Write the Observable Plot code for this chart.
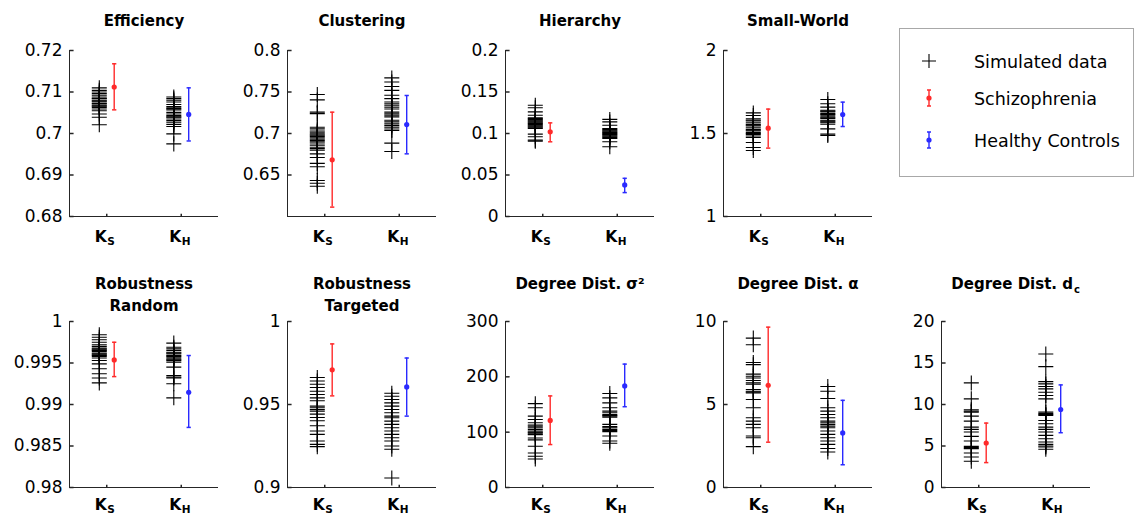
<!DOCTYPE html>
<html><head><meta charset="utf-8">
<script src="https://cdn.jsdelivr.net/npm/d3@7"></script>
<script src="https://cdn.jsdelivr.net/npm/@observablehq/plot@0.6"></script>
<style>
body{margin:0;background:#fff;}
#root{position:relative;width:1135px;height:517px;overflow:hidden;font-family:"DejaVu Sans",sans-serif;background:#fff;}
.panel{position:absolute;}
#legend{position:absolute;left:899px;top:28px;width:233px;height:147px;border:1px solid #a8a8a8;}
</style></head><body><div id="root"></div>
<script>
// ---------------- data ----------------
const categories = ["S", "H"];           // K_S, K_H subscripts
const catX = [1, 2];
const legendLabels = ["Simulated data", "Schizophrenia", "Healthy Controls"];

const titles = ["Efficiency", "Clustering", "Hierarchy", "Small-World",
  "Robustness\nRandom", "Robustness\nTargeted", "Degree Dist. σ²", "Degree Dist. α", "Degree Dist. d"];
const titleSubscripts = ["", "", "", "", "", "", "", "", "c"];

// Efficiency
const effDomain = [0.68, 0.72];
const effTicks = [0.68, 0.69, 0.7, 0.71, 0.72];
const effSimS = [0.7110, 0.7104, 0.7100, 0.7096, 0.7092, 0.7088, 0.7085, 0.7084, 0.7080, 0.7078, 0.7076, 0.7072, 0.7071, 0.7067, 0.7066, 0.7063, 0.7059, 0.7055, 0.7047, 0.7039, 0.7021];
const effSimH = [0.7088, 0.7084, 0.7080, 0.7076, 0.7070, 0.7065, 0.7062, 0.7060, 0.7057, 0.7051, 0.7047, 0.7043, 0.7040, 0.7039, 0.7035, 0.7031, 0.7027, 0.7022, 0.7017, 0.6999, 0.6975];
const effSZ = [0.7112, 0.7057, 0.7168];
const effHC = [0.7046, 0.6982, 0.7110];

// Clustering
const cluDomain = [0.6, 0.8];
const cluTicks = [0.65, 0.7, 0.75, 0.8];
const cluSimS = [0.747, 0.7405, 0.7257, 0.724, 0.7076, 0.7056, 0.703, 0.7015, 0.6996, 0.698, 0.6965, 0.6948, 0.6932, 0.6916, 0.69, 0.6885, 0.686, 0.6835, 0.682, 0.680, 0.6755, 0.671, 0.664, 0.660, 0.6434, 0.640, 0.6365];
const cluSimH = [0.767, 0.762, 0.7566, 0.752, 0.746, 0.742, 0.738, 0.7357, 0.7335, 0.7317, 0.7295, 0.7257, 0.7237, 0.722, 0.720, 0.716, 0.714, 0.7116, 0.7095, 0.7076, 0.7055, 0.7036, 0.6884, 0.6783];
const cluSZ = [0.6683, 0.6113, 0.7257];
const cluHC = [0.7108, 0.6755, 0.7458];

// Hierarchy
const hieDomain = [0, 0.2];
const hieTicks = [0, 0.05, 0.1, 0.15, 0.2];
const hieSimS = [0.134, 0.131, 0.126, 0.122, 0.119, 0.118, 0.117, 0.116, 0.115, 0.114, 0.113, 0.112, 0.111, 0.110, 0.109, 0.108, 0.107, 0.106, 0.0992, 0.096, 0.092, 0.0908];
const hieSimH = [0.117, 0.114, 0.110, 0.106, 0.105, 0.104, 0.103, 0.102, 0.101, 0.100, 0.099, 0.098, 0.097, 0.096, 0.095, 0.094, 0.090, 0.084];
const hieSZ = [0.102, 0.090, 0.1128];
const hieHC = [0.038, 0.0288, 0.046];

// Small-World
const swDomain = [1, 2];
const swTicks = [1, 1.5, 2];
const swSimS = [1.624, 1.608, 1.588, 1.58, 1.575, 1.565, 1.555, 1.55, 1.545, 1.535, 1.525, 1.52, 1.515, 1.505, 1.50, 1.495, 1.485, 1.476, 1.446, 1.416, 1.398];
const swSimH = [1.705, 1.679, 1.659, 1.64, 1.635, 1.63, 1.62, 1.615, 1.61, 1.60, 1.595, 1.59, 1.58, 1.575, 1.57, 1.565, 1.556, 1.528, 1.496, 1.488];
const swSZ = [1.532, 1.412, 1.647];
const swHC = [1.6145, 1.542, 1.689];

// Robustness Random
const rrDomain = [0.98, 1];
const rrTicks = [0.98, 0.985, 0.99, 0.995, 1];
const rrSimS = [0.9984, 0.9981, 0.9978, 0.9975, 0.9972, 0.9970, 0.9968, 0.9967, 0.9966, 0.9965, 0.9964, 0.9962, 0.9961, 0.9960, 0.9959, 0.9958, 0.9956, 0.9953, 0.9949, 0.9943, 0.9937, 0.9932, 0.9926];
const rrSimH = [0.9974, 0.9969, 0.9967, 0.9965, 0.9963, 0.9962, 0.9961, 0.9959, 0.9958, 0.9957, 0.9955, 0.9954, 0.9953, 0.9951, 0.9945, 0.9935, 0.9933, 0.9932, 0.9925, 0.9908];
const rrSZ = [0.99537, 0.99336, 0.9975];
const rrHC = [0.99147, 0.98724, 0.9959];

// Robustness Targeted
const rtDomain = [0.9, 1];
const rtTicks = [0.9, 0.95, 1];
const rtSimS = [0.9663, 0.9642, 0.9622, 0.9602, 0.958, 0.956, 0.954, 0.9523, 0.949, 0.948, 0.947, 0.946, 0.9442, 0.9422, 0.9402, 0.9372, 0.934, 0.932, 0.928, 0.926, 0.9246];
const rtSimH = [0.9568, 0.955, 0.953, 0.951, 0.949, 0.947, 0.945, 0.943, 0.942, 0.940, 0.938, 0.936, 0.934, 0.932, 0.930, 0.928, 0.925, 0.923, 0.9057];
const rtSZ = [0.9709, 0.9552, 0.9865];
const rtHC = [0.9606, 0.943, 0.978];

// Degree Dist. sigma^2
const sigDomain = [0, 300];
const sigTicks = [0, 100, 200, 300];
const sigSimS = [151.5, 144, 129, 123, 117, 113, 111, 108, 105, 102, 100, 99, 97, 95.5, 89.5, 86, 74.5, 62.4, 56.4, 51.5];
const sigSimH = [170, 162, 153, 144, 138, 135, 132, 130, 129, 127, 114, 110, 108, 105, 103, 101, 93, 84, 80];
const sigSZ = [121.2, 77.6, 165.5];
const sigHC = [183.6, 146, 223];

// Degree Dist. alpha
const alpDomain = [0, 10];
const alpTicks = [0, 5, 10];
const alpSimS = [9.0, 8.6, 7.53, 7.4, 6.83, 6.7, 6.6, 6.45, 6.3, 6.22, 5.9, 5.8, 5.75, 5.7, 5.3, 4.8, 4.2, 4.0, 3.8, 3.6, 3.1, 3.0, 2.46];
const alpSimH = [6.08, 5.8, 5.36, 4.8, 4.6, 4.4, 4.2, 4.0, 3.9, 3.8, 3.7, 3.6, 3.4, 3.2, 3.0, 2.8, 2.6, 2.35, 2.14];
const alpSZ = [6.16, 2.73, 9.66];
const alpHC = [3.29, 1.37, 5.25];

// Degree Dist. d_c
const dcDomain = [0, 20];
const dcTicks = [0, 5, 10, 15, 20];
const dcSimS = [12.6, 10.68, 9.36, 9.2, 9.08, 8.6, 8.0, 7.28, 7.0, 6.68, 6.16, 5.6, 4.96, 4.8, 4.68, 4.16, 3.68, 3.16];
const dcSimH = [16.08, 14.56, 12.76, 12.48, 12.16, 11.88, 11.48, 11.08, 10.68, 9.08, 8.9, 8.8, 8.68, 8.08, 7.68, 7.28, 7.0, 6.68, 6.28, 5.88, 5.48, 5.2, 5.0, 4.88, 4.6];
const dcSZ = [5.36, 3.0, 7.76];
const dcHC = [9.4, 6.6, 12.36];

// ---------------- styling / layout ----------------
const colSZ = "#ff2a2a", colHC = "#2a2aff", axisColor = "#262626";
const simOffset = -0.1, errOffset = 0.1;
const xDomain = [0.5, 2.5];
const frameW = 149, frameH = 166, ML = 66, MR = 3, MT = 50;

const panelDefs = [
  {domain: effDomain, ticks: effTicks, simS: effSimS, simH: effSimH, sz: effSZ, hc: effHC},
  {domain: cluDomain, ticks: cluTicks, simS: cluSimS, simH: cluSimH, sz: cluSZ, hc: cluHC},
  {domain: hieDomain, ticks: hieTicks, simS: hieSimS, simH: hieSimH, sz: hieSZ, hc: hieHC},
  {domain: swDomain, ticks: swTicks, simS: swSimS, simH: swSimH, sz: swSZ, hc: swHC},
  {domain: rrDomain, ticks: rrTicks, simS: rrSimS, simH: rrSimH, sz: rrSZ, hc: rrHC},
  {domain: rtDomain, ticks: rtTicks, simS: rtSimS, simH: rtSimH, sz: rtSZ, hc: rtHC},
  {domain: sigDomain, ticks: sigTicks, simS: sigSimS, simH: sigSimH, sz: sigSZ, hc: sigHC},
  {domain: alpDomain, ticks: alpTicks, simS: alpSimS, simH: alpSimH, sz: alpSZ, hc: alpHC},
  {domain: dcDomain, ticks: dcTicks, simS: dcSimS, simH: dcSimH, sz: dcSZ, hc: dcHC}
];
const layout = [
  {col: 0, row: 0}, {col: 1, row: 0}, {col: 2, row: 0}, {col: 3, row: 0},
  {col: 0, row: 1}, {col: 1, row: 1}, {col: 2, row: 1}, {col: 3, row: 1}, {col: 4, row: 1}
];

const tickRight = {draw(ctx, size) { const l = Math.sqrt(size); ctx.moveTo(0, 0); ctx.lineTo(l, 0); }};
const tickUp = {draw(ctx, size) { const l = Math.sqrt(size); ctx.moveTo(0, 0); ctx.lineTo(0, -l); }};
const capLine = {draw(ctx, size) { const l = Math.sqrt(size) / 2; ctx.moveTo(-l, 0); ctx.lineTo(l, 0); }};
const fmt = d => String(+d.toFixed(6));

const root = document.getElementById("root");

panelDefs.forEach((p, i) => {
  const {col, row} = layout[i];
  const MB = row === 0 ? 40 : 30;
  const sim = [
    ...p.simS.map(v => ({x: catX[0] + simOffset, y: v})),
    ...p.simH.map(v => ({x: catX[1] + simOffset, y: v}))
  ];
  const grpSZ = [{x: catX[0] + errOffset, m: p.sz[0], lo: p.sz[1], hi: p.sz[2]}];
  const grpHC = [{x: catX[1] + errOffset, m: p.hc[0], lo: p.hc[1], hi: p.hc[2]}];
  const title = titles[i];
  const twoLine = title.includes("\n");
  const titleDy = row === 0 ? -25 : (twoLine ? -11 : -33);
  const labelDy = row === 0 ? 25 : 22;
  const sub = titleSubscripts[i];

  const marks = [
    Plot.ruleX([xDomain[0]], {stroke: axisColor, strokeWidth: 1}),
    Plot.ruleY([p.domain[0]], {stroke: axisColor, strokeWidth: 1}),
    Plot.dot(p.ticks, {y: d => d, frameAnchor: "left", symbol: tickRight, r: 2.3, stroke: axisColor, fill: "none"}),
    Plot.dot(catX, {x: d => d, frameAnchor: "bottom", symbol: tickUp, r: 1.5, stroke: axisColor, fill: "none"}),
    Plot.axisY({ticks: p.ticks, tickFormat: fmt, tickSize: 0, tickPadding: 7, fontSize: 17, fill: "#000"}),
    Plot.dot(sim, {x: "x", y: "y", symbol: "plus", r: 4.9, stroke: "#000", strokeWidth: 1.1}),
    Plot.ruleX(grpSZ, {x: "x", y1: "lo", y2: "hi", stroke: colSZ, strokeWidth: 1.4}),
    Plot.ruleX(grpHC, {x: "x", y1: "lo", y2: "hi", stroke: colHC, strokeWidth: 1.4}),
    Plot.dot(grpSZ, {x: "x", y: "lo", symbol: capLine, r: 2.4, stroke: colSZ, fill: "none"}),
    Plot.dot(grpSZ, {x: "x", y: "hi", symbol: capLine, r: 2.4, stroke: colSZ, fill: "none"}),
    Plot.dot(grpHC, {x: "x", y: "lo", symbol: capLine, r: 2.4, stroke: colHC, fill: "none"}),
    Plot.dot(grpHC, {x: "x", y: "hi", symbol: capLine, r: 2.4, stroke: colHC, fill: "none"}),
    Plot.dot(grpSZ, {x: "x", y: "m", r: 2.6, fill: colSZ, stroke: "none"}),
    Plot.dot(grpHC, {x: "x", y: "m", r: 2.6, fill: colHC, stroke: "none"}),
    // category labels K_S, K_H
    Plot.text(categories, {x: (d, j) => catX[j], text: () => "K", frameAnchor: "bottom", lineAnchor: "bottom",
      textAnchor: "end", dx: 0, dy: labelDy, fontSize: 15.5, fontWeight: "bold", fill: "#000"}),
    Plot.text(categories, {x: (d, j) => catX[j], text: d => d, frameAnchor: "bottom", lineAnchor: "bottom",
      textAnchor: "start", dx: 0.5, dy: labelDy + 3, fontSize: 10.5, fontWeight: "bold", fill: "#000"})
  ];
  if (sub) {
    marks.push(Plot.text([title], {text: d => d, frameAnchor: "top", lineAnchor: "bottom", textAnchor: "end",
      dx: 57, dy: titleDy, fontSize: 15, fontWeight: "bold", fill: "#000"}));
    marks.push(Plot.text([sub], {text: d => d, frameAnchor: "top", lineAnchor: "bottom", textAnchor: "start",
      dx: 58, dy: titleDy + 4, fontSize: 10, fontWeight: "bold", fill: "#000"}));
  } else {
    marks.push(Plot.text([title], {text: d => d, frameAnchor: "top", lineAnchor: "bottom", lineHeight: 1.45,
      dy: titleDy, fontSize: 15, fontWeight: "bold", fill: "#000"}));
  }

  const chart = Plot.plot({
    width: ML + frameW + MR,
    height: MT + frameH + MB,
    marginLeft: ML, marginRight: MR, marginTop: MT, marginBottom: MB,
    x: {domain: xDomain, axis: null},
    y: {domain: p.domain, axis: null},
    style: {background: "transparent", fontFamily: "DejaVu Sans, sans-serif", fontSize: "17px", overflow: "visible"},
    marks
  });
  const div = document.createElement("div");
  div.className = "panel";
  div.style.left = (69 + 218 * col - ML) + "px";
  div.style.top = (row === 0 ? 0 : 271) + "px";
  div.style.width = (ML + frameW + MR) + "px";
  div.appendChild(chart);
  root.appendChild(div);
});

// ---------------- legend ----------------
const legend = document.createElement("div");
legend.id = "legend";
root.appendChild(legend);
const lsvg = d3.select(legend).append("svg").attr("width", 233).attr("height", 147)
  .style("display", "block").style("font-family", "DejaVu Sans, sans-serif");
const lx = 29, ly = [32, 69, 111];
lsvg.append("path").attr("d", `M${lx - 7},${ly[0]}H${lx + 7}M${lx},${ly[0] - 7}V${ly[0] + 7}`)
  .attr("stroke", "#000").attr("stroke-width", 1.1).attr("fill", "none");
[[colSZ, ly[1]], [colHC, ly[2]]].forEach(([c, y]) => {
  lsvg.append("path").attr("d", `M${lx},${y - 8}V${y + 8}M${lx - 2},${y - 8}H${lx + 2}M${lx - 2},${y + 8}H${lx + 2}`)
    .attr("stroke", c).attr("stroke-width", 1.4).attr("fill", "none");
  lsvg.append("circle").attr("cx", lx).attr("cy", y).attr("r", 2.6).attr("fill", c);
});
legendLabels.forEach((t, i) => {
  lsvg.append("text").attr("x", 74).attr("y", ly[i] + 6.5).attr("font-size", 17.5).attr("fill", "#000").text(t);
});
</script></body></html>
